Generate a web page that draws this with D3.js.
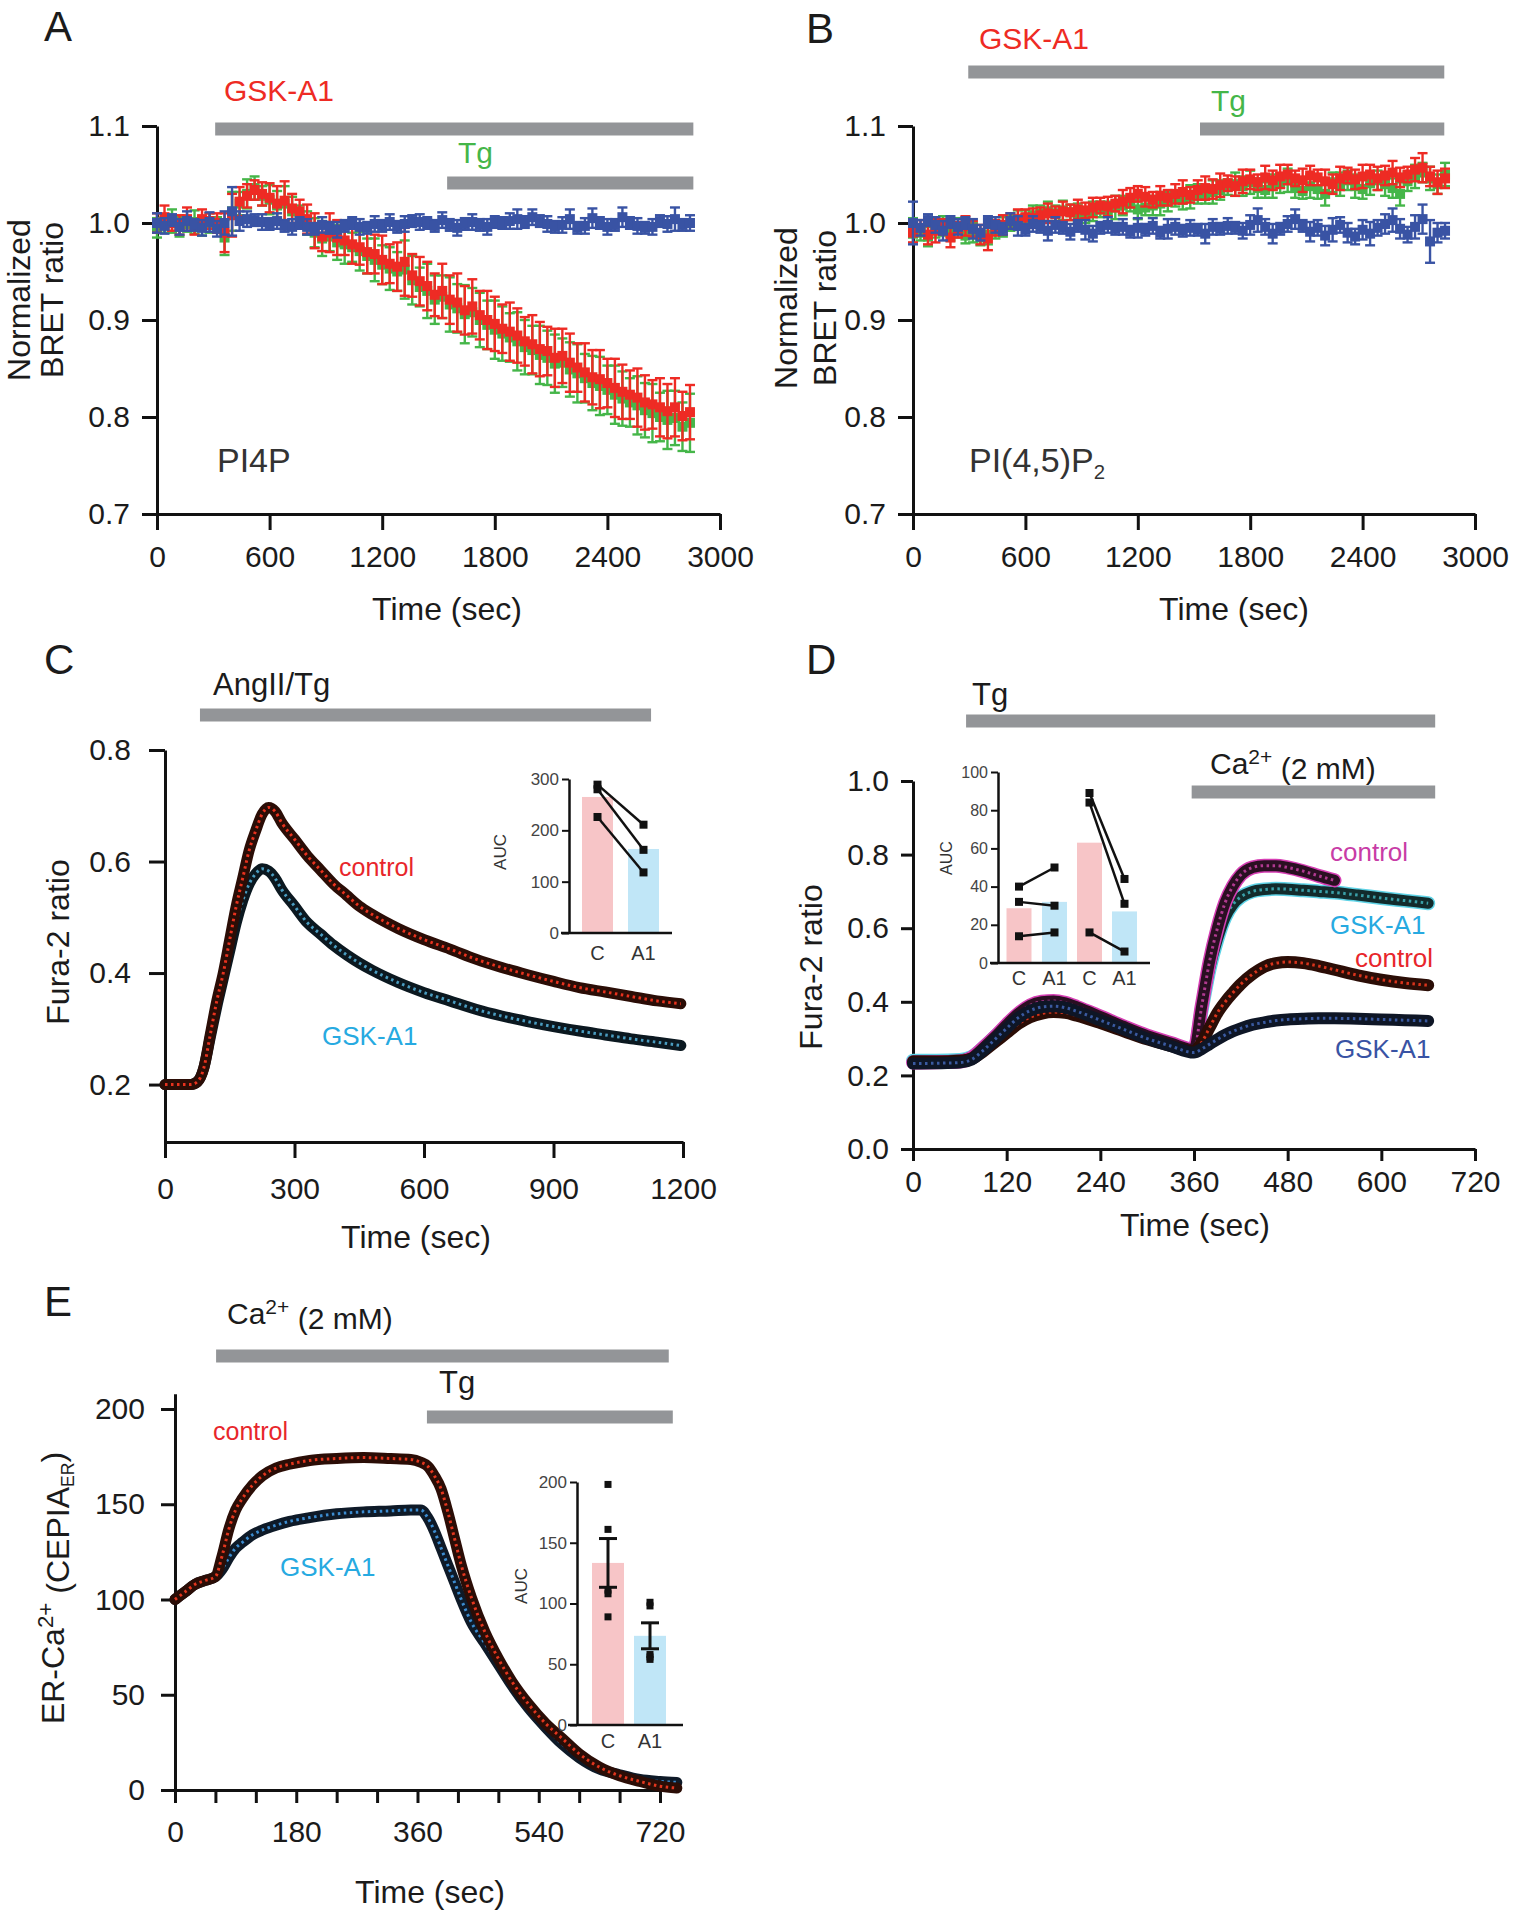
<!DOCTYPE html>
<html>
<head>
<meta charset="utf-8">
<script src="https://cdn.jsdelivr.net/npm/d3@7"></script>
<style>
  body { margin: 0; background: #fff; }
  svg { display: block; }
</style>
</head>
<body>
<svg id="fig" width="1515" height="1920"></svg>
<script>
// ---------------- data ----------------
// A / B : BRET time courses, sampled every 40 s (0 .. 2840 s)
var tAB = d3.range(0, 2841, 40);

var aBlue = [1.000,0.997,1.003,0.996,1.002,0.998,0.995,1.001,0.994,1.000,
  1.012,1.002,1.004,1.003,1.001,0.999,1.002,0.997,0.996,1.000,
  0.996,0.994,0.998,0.995,0.993,0.997,1.000,0.996,0.995,0.999,
  0.997,1.001,0.996,0.999,1.002,1.001,1.000,0.997,1.003,0.998,
  0.995,0.999,1.001,0.998,0.996,1.001,1.000,1.002,1.004,1.001,
  1.006,1.002,0.999,0.996,0.998,1.004,0.995,0.997,1.005,1.000,
  0.996,0.998,1.006,1.000,0.997,0.995,0.996,1.002,0.999,1.004,
  0.998,1.000];
var aBlueErr = [0.010,0.008,0.006,0.008,0.010,0.006,0.008,0.010,0.008,0.012,
  0.025,0.010,0.008,0.006,0.008,0.006,0.008,0.006,0.008,0.006,
  0.008,0.006,0.008,0.006,0.008,0.006,0.006,0.008,0.006,0.008,
  0.006,0.008,0.006,0.008,0.006,0.008,0.006,0.006,0.008,0.006,
  0.008,0.006,0.008,0.006,0.008,0.006,0.006,0.008,0.010,0.006,
  0.008,0.006,0.008,0.006,0.008,0.010,0.006,0.008,0.010,0.006,
  0.008,0.006,0.010,0.006,0.008,0.006,0.008,0.006,0.008,0.012,
  0.006,0.008];
var aRed = [1.000,1.006,1.000,0.998,1.004,0.996,1.004,1.002,1.000,0.990,
  1.008,1.022,1.028,1.034,1.030,1.026,1.020,1.023,1.015,1.012,
  1.004,0.992,0.986,0.990,0.985,0.982,0.978,0.975,0.970,0.968,
  0.962,0.958,0.955,0.960,0.946,0.940,0.935,0.926,0.930,0.921,
  0.918,0.910,0.914,0.905,0.900,0.896,0.891,0.888,0.884,0.878,
  0.875,0.870,0.868,0.861,0.863,0.856,0.851,0.846,0.841,0.839,
  0.835,0.830,0.826,0.823,0.820,0.815,0.813,0.810,0.806,0.810,
  0.801,0.805];
var aRedErr = [0.010,0.012,0.008,0.010,0.012,0.008,0.010,0.008,0.010,0.020,
  0.022,0.015,0.012,0.010,0.012,0.015,0.018,0.020,0.015,0.012,
  0.015,0.018,0.015,0.020,0.018,0.015,0.020,0.018,0.022,0.020,
  0.025,0.020,0.025,0.035,0.022,0.025,0.025,0.022,0.028,0.025,
  0.030,0.025,0.028,0.025,0.030,0.028,0.025,0.030,0.028,0.025,
  0.030,0.028,0.025,0.030,0.028,0.030,0.025,0.030,0.028,0.030,
  0.025,0.030,0.028,0.025,0.030,0.028,0.025,0.030,0.028,0.030,
  0.025,0.028];
var aGreen = [0.995,0.998,1.002,0.996,0.999,1.001,0.997,1.000,0.998,0.985,
  1.012,1.020,1.030,1.036,1.028,1.024,1.018,1.020,1.012,1.008,
  1.000,0.990,0.984,0.986,0.980,0.978,0.975,0.971,0.966,0.962,
  0.957,0.953,0.950,0.952,0.941,0.934,0.930,0.921,0.924,0.916,
  0.912,0.906,0.908,0.900,0.895,0.890,0.886,0.882,0.878,0.872,
  0.869,0.864,0.861,0.855,0.856,0.849,0.845,0.840,0.835,0.832,
  0.828,0.823,0.819,0.815,0.812,0.807,0.804,0.800,0.797,0.799,
  0.790,0.794];
var aGreenErr = [0.010,0.008,0.012,0.010,0.008,0.012,0.010,0.010,0.008,0.018,
  0.020,0.012,0.015,0.012,0.010,0.015,0.015,0.018,0.015,0.010,
  0.012,0.015,0.018,0.015,0.018,0.020,0.015,0.020,0.018,0.022,
  0.020,0.022,0.020,0.030,0.025,0.020,0.028,0.025,0.022,0.028,
  0.025,0.030,0.025,0.028,0.025,0.030,0.028,0.025,0.030,0.028,
  0.025,0.030,0.028,0.030,0.025,0.028,0.030,0.025,0.028,0.030,
  0.025,0.030,0.028,0.025,0.030,0.028,0.030,0.025,0.030,0.028,
  0.025,0.030];

var bBlue = [1.000,0.995,1.003,0.998,0.992,1.001,0.996,1.000,0.994,0.990,
  1.001,0.998,0.994,1.002,0.997,0.993,0.999,0.996,0.992,0.998,
  0.995,0.991,0.997,0.993,0.989,0.995,0.998,0.994,0.996,0.991,
  0.995,0.993,0.997,0.990,0.994,0.996,0.992,0.995,0.993,0.989,
  0.996,0.994,0.997,0.995,0.992,0.998,1.003,0.996,0.989,0.994,
  0.999,1.004,0.997,0.991,0.995,0.987,0.993,0.998,0.990,0.986,
  0.993,0.989,0.995,0.999,1.003,0.994,0.988,0.996,1.004,0.981,
  0.990,0.992];
var bBlueErr = [0.022,0.008,0.006,0.008,0.010,0.006,0.008,0.006,0.010,0.008,
  0.006,0.008,0.006,0.008,0.010,0.006,0.008,0.006,0.010,0.008,
  0.006,0.008,0.006,0.010,0.008,0.006,0.008,0.006,0.008,0.006,
  0.010,0.006,0.008,0.006,0.010,0.008,0.006,0.008,0.006,0.010,
  0.008,0.006,0.008,0.006,0.008,0.010,0.012,0.008,0.010,0.006,
  0.008,0.010,0.006,0.010,0.008,0.010,0.012,0.008,0.010,0.008,
  0.010,0.012,0.008,0.010,0.012,0.010,0.008,0.012,0.015,0.022,
  0.010,0.008];
var bRed = [0.990,0.995,0.988,0.992,0.996,0.985,0.993,0.997,0.994,0.988,
  0.984,0.995,0.998,1.002,1.004,1.006,1.005,1.008,1.010,1.009,
  1.012,1.011,1.014,1.013,1.016,1.018,1.017,1.020,1.022,1.026,
  1.030,1.027,1.024,1.028,1.026,1.030,1.032,1.029,1.034,1.036,
  1.035,1.039,1.041,1.038,1.043,1.045,1.042,1.047,1.044,1.048,
  1.050,1.046,1.044,1.049,1.047,1.043,1.040,1.046,1.049,1.045,
  1.048,1.050,1.046,1.049,1.052,1.047,1.050,1.055,1.057,1.048,
  1.042,1.046];
var bRedErr = [0.010,0.008,0.010,0.012,0.008,0.010,0.008,0.010,0.008,0.010,
  0.012,0.008,0.010,0.008,0.010,0.008,0.010,0.008,0.010,0.008,
  0.010,0.008,0.010,0.008,0.010,0.008,0.010,0.008,0.012,0.010,
  0.008,0.010,0.008,0.010,0.008,0.010,0.012,0.008,0.010,0.012,
  0.010,0.012,0.008,0.010,0.012,0.010,0.008,0.012,0.010,0.012,
  0.010,0.008,0.012,0.010,0.008,0.012,0.010,0.012,0.008,0.010,
  0.012,0.010,0.012,0.010,0.012,0.010,0.008,0.012,0.015,0.010,
  0.012,0.010];
var bGreen = [0.995,0.990,0.986,0.993,0.997,0.990,0.995,0.987,0.990,0.985,
  0.988,0.992,0.996,1.000,1.003,1.005,1.008,1.010,1.012,1.010,
  1.013,1.011,1.010,1.008,1.012,1.014,1.012,1.016,1.018,1.020,
  1.014,1.016,1.018,1.020,1.022,1.025,1.024,1.027,1.030,1.028,
  1.032,1.034,1.037,1.040,1.038,1.042,1.036,1.034,1.038,1.041,
  1.044,1.036,1.033,1.038,1.035,1.030,1.042,1.040,1.044,1.038,
  1.035,1.041,1.044,1.040,1.036,1.030,1.043,1.048,1.052,1.046,
  1.040,1.050];
var bGreenErr = [0.010,0.008,0.010,0.008,0.010,0.008,0.010,0.008,0.010,0.008,
  0.010,0.008,0.010,0.008,0.010,0.008,0.010,0.008,0.010,0.008,
  0.010,0.008,0.010,0.008,0.010,0.008,0.010,0.012,0.010,0.008,
  0.010,0.008,0.010,0.012,0.010,0.008,0.010,0.012,0.010,0.008,
  0.012,0.010,0.008,0.012,0.010,0.012,0.010,0.008,0.012,0.010,
  0.012,0.010,0.008,0.012,0.010,0.012,0.010,0.012,0.010,0.012,
  0.010,0.012,0.010,0.012,0.010,0.012,0.010,0.012,0.010,0.012,
  0.010,0.012];

// C : Fura-2 ratio, AngII/Tg
var timeC = [0,30,60,75,90,105,120,135,150,165,180,195,210,225,240,255,270,
  300,330,360,390,420,450,480,540,600,660,720,780,840,900,960,1020,1080,1140,1195];
var cControl = [0.20,0.20,0.20,0.205,0.23,0.29,0.35,0.40,0.46,0.52,0.57,0.62,0.655,0.685,0.697,0.69,0.67,
  0.64,0.61,0.585,0.56,0.54,0.52,0.505,0.48,0.46,0.443,0.425,0.41,0.397,0.385,0.374,0.366,0.358,0.35,0.345];
var cGsk = [0.20,0.20,0.20,0.205,0.23,0.285,0.34,0.39,0.44,0.49,0.53,0.56,0.578,0.587,0.583,0.57,0.55,
  0.52,0.49,0.47,0.45,0.433,0.418,0.405,0.383,0.365,0.35,0.335,0.323,0.313,0.304,0.296,0.289,0.282,0.276,0.27];
var cAucControl = [289, 280, 226];
var cAucGsk = [211, 162, 118];

// D : Fura-2 ratio, Tg then Ca2+
var timeD = [0,30,60,75,90,105,120,135,150,165,180,195,210,240,270,300,330,360,
  370,380,390,400,410,420,435,450,465,480,500,520,540,570,600,630,660];
var dControlHi = [0.235,0.236,0.238,0.248,0.275,0.305,0.338,0.368,0.390,0.400,0.402,0.397,0.386,0.360,0.333,0.308,0.288,0.270,
  0.390,0.510,0.600,0.670,0.715,0.745,0.765,0.770,0.770,0.765,0.755,0.742,0.730];
var dGskHi = [0.240,0.240,0.242,0.250,0.275,0.305,0.335,0.365,0.385,0.395,0.397,0.392,0.382,0.357,0.330,0.305,0.285,0.268,
  0.380,0.490,0.570,0.630,0.665,0.685,0.700,0.705,0.707,0.706,0.703,0.700,0.697,0.690,0.682,0.675,0.668];
var dControlLo = [0.238,0.238,0.240,0.245,0.265,0.290,0.315,0.340,0.358,0.368,0.372,0.370,0.362,0.342,0.320,0.298,0.280,0.265,
  0.290,0.330,0.370,0.400,0.425,0.448,0.475,0.495,0.505,0.508,0.505,0.497,0.487,0.472,0.460,0.451,0.445];
var dGskLo = [0.232,0.233,0.235,0.243,0.268,0.298,0.328,0.357,0.376,0.386,0.388,0.384,0.374,0.350,0.325,0.300,0.280,0.262,
  0.272,0.285,0.298,0.310,0.320,0.328,0.338,0.344,0.349,0.352,0.354,0.355,0.355,0.354,0.352,0.350,0.348];
// inset AUC, two experiments (paired C vs A1)
var dAuc1Control = [40, 32, 14];
var dAuc1Gsk = [50, 30, 16];
var dAuc2Control = [89, 84, 16];
var dAuc2Gsk = [44, 31, 6];

// E : ER-Ca2+ (CEPIA-ER)
var timeE = [0,15,30,45,60,70,80,90,100,115,130,150,170,200,240,280,320,350,
  365,375,385,395,405,415,425,440,460,480,500,525,550,575,600,630,660,690,720,745];
var eControl = [100,104,108,110,112,123,137,147,153,160,165,169,171,173,174,174.5,174,173.5,
  172,170,165,158,146,132,118,101,83,69,57,45,35,27,19,12,7.5,4.5,2,1];
var eGsk = [100,104,108,110,112,116,122,127,130,134,136.5,139,141,143,145,146,146.5,147,
  147,143,136,127,118,109,100,88,77,66,55,43,33,24,17,11,8,5.5,4.5,4];
var eAucControl = [198, 161, 111, 108, 89];
var eAucGsk = [101, 98, 58, 56, 54];

// treatment windows (sec)
var treatA = [[310, 2858], [1546, 2858]];
var treatB = [[295, 2836], [1532, 2836]];
var treatC = [[81, 1126]];
var treatD = [[68, 669], [357, 669]];
var treatE = [[61, 733], [374, 739]];

// ---------------- drawing ----------------
var FONT = '"Liberation Sans", Arial, Helvetica, sans-serif';
var RED = "#ee2b24", GREEN = "#45b649", BLUE = "#3953a4", CYAN = "#27aae1",
    MAGENTA = "#c83ca6", GRAY = "#939598", INK = "#1b1b1b";
var plain = d3.format("d");
var svg = d3.select("#fig");
svg.append("rect").attr("width", 1515).attr("height", 1920).attr("fill", "#fff");

function txt(x, y, s, size, color, anchor) {
  return svg.append("text").attr("x", x).attr("y", y).text(s)
    .attr("font-family", FONT).attr("font-size", size)
    .attr("fill", color || INK).attr("text-anchor", anchor || "start");
}

function styleAxis(g, fs) {
  g.attr("font-family", FONT).attr("font-size", fs);
  g.select(".domain").attr("stroke", "#111").attr("stroke-width", 3);
  g.selectAll(".tick line").attr("stroke", "#111").attr("stroke-width", 3);
  g.selectAll(".tick text").attr("fill", INK);
}

function vtitle(x, y, size) {
  return svg.append("text").attr("transform", "translate(" + x + "," + y + ") rotate(-90)")
    .attr("text-anchor", "middle").attr("font-family", FONT).attr("font-size", size).attr("fill", INK);
}

function grayBars(x, wins, ys) {
  wins.forEach(function (w, i) {
    svg.append("rect").attr("x", x(w[0])).attr("y", ys[i] - 6.5)
      .attr("width", x(w[1]) - x(w[0])).attr("height", 13).attr("fill", GRAY);
  });
}

function scatterErr(x, y, ts, vals, errs, color) {
  var pts = vals.map(function (v, i) { return { t: ts[i], v: v, e: errs[i] || 0 }; });
  var g = svg.append("g").attr("stroke", color).attr("fill", color);
  g.selectAll(null).data(pts).join("line")
    .attr("x1", d => x(d.t)).attr("x2", d => x(d.t))
    .attr("y1", d => y(d.v + d.e)).attr("y2", d => y(d.v - d.e))
    .attr("stroke-width", 2.4);
  [1, -1].forEach(function (sg) {
    g.selectAll(null).data(pts).join("line")
      .attr("x1", d => x(d.t) - 5).attr("x2", d => x(d.t) + 5)
      .attr("y1", d => y(d.v + sg * d.e)).attr("y2", d => y(d.v + sg * d.e))
      .attr("stroke-width", 2.4);
  });
  g.selectAll(null).data(pts).join("rect")
    .attr("x", d => x(d.t) - 5).attr("y", d => y(d.v) - 5)
    .attr("width", 10).attr("height", 10).attr("stroke", "none");
}

function band(x, y, ts, vals, st) {
  var line = d3.line().x((d, i) => x(ts[i])).y(d => y(d)).curve(d3.curveMonotoneX);
  var p = line(vals);
  var g = svg.append("g").attr("fill", "none").attr("stroke-linecap", "round").attr("stroke-linejoin", "round");
  if (st.rim) g.append("path").attr("d", p).attr("stroke", st.rim).attr("stroke-width", st.w + 3);
  g.append("path").attr("d", p).attr("stroke", st.dark).attr("stroke-width", st.w);
  g.append("path").attr("d", p).attr("stroke", st.dot).attr("stroke-width", 3)
    .attr("stroke-dasharray", "2.5 3.5").attr("stroke-linecap", "butt");
}

function sup(textSel, base, supTxt, rest) {
  textSel.append("tspan").text(base);
  textSel.append("tspan").text(supTxt).attr("font-size", "0.7em").attr("dy", "-0.5em");
  textSel.append("tspan").text(rest).attr("dy", "0.5em");
}

// inset bar chart helper
function inset(cfg) {
  var y = cfg.y;
  var ax = svg.append("g").attr("transform", "translate(" + cfg.axisX + ",0)")
    .call(d3.axisLeft(y).tickValues(cfg.ticks).tickSize(7).tickPadding(3).tickSizeOuter(0));
  ax.attr("font-family", FONT).attr("font-size", cfg.fs);
  ax.select(".domain").attr("stroke", "#111").attr("stroke-width", 2.5);
  ax.selectAll(".tick line").attr("stroke", "#111").attr("stroke-width", 2);
  ax.selectAll(".tick text").attr("fill", "#444");
  cfg.bars.forEach(function (b) {
    svg.append("rect").attr("x", b.cx - cfg.bw / 2).attr("y", y(d3.mean(b.vals)))
      .attr("width", cfg.bw).attr("height", y(0) - y(d3.mean(b.vals))).attr("fill", b.fill);
  });
  svg.append("line").attr("x1", cfg.xLine[0]).attr("x2", cfg.xLine[1])
    .attr("y1", y(0)).attr("y2", y(0)).attr("stroke", "#111").attr("stroke-width", 2.5);
  cfg.labels.forEach(function (l) {
    txt(l.cx, cfg.labelY, l.s, cfg.lfs, "#333", "middle");
  });
  svg.append("text").attr("transform", "translate(" + cfg.aucX + "," + cfg.aucY + ") rotate(-90)")
    .attr("text-anchor", "middle").attr("font-family", FONT).attr("font-size", cfg.fs).attr("fill", "#333").text("AUC");
}

function pairs(y, xa, xb, va, vb) {
  va.forEach(function (v, i) {
    svg.append("line").attr("x1", xa).attr("x2", xb).attr("y1", y(v)).attr("y2", y(vb[i]))
      .attr("stroke", "#111").attr("stroke-width", 2.5);
  });
  va.concat(vb).forEach(function (v, i) {
    var cx = i < va.length ? xa : xb;
    svg.append("rect").attr("x", cx - 4).attr("y", y(v) - 4).attr("width", 8).attr("height", 8).attr("fill", "#111");
  });
}

// ======== Panel A ========
var xA = d3.scaleLinear().domain([0, 3000]).range([157, 720]);
var yA = d3.scaleLinear().domain([0.7, 1.1]).range([514, 126]);
grayBars(xA, treatA, [129, 183]);
styleAxis(svg.append("g").attr("transform", "translate(0,514)")
  .call(d3.axisBottom(xA).tickValues([0, 600, 1200, 1800, 2400, 3000]).tickFormat(plain).tickSize(16).tickPadding(16).tickSizeOuter(0)), 30);
styleAxis(svg.append("g").attr("transform", "translate(157,0)")
  .call(d3.axisLeft(yA).tickValues([0.7, 0.8, 0.9, 1.0, 1.1]).tickFormat(d3.format(".1f")).tickSize(15).tickPadding(12).tickSizeOuter(0)), 30);
scatterErr(xA, yA, tAB, aGreen, aGreenErr, GREEN);
scatterErr(xA, yA, tAB, aRed, aRedErr, RED);
scatterErr(xA, yA, tAB, aBlue, aBlueErr, BLUE);
txt(44, 41, "A", 42);
txt(224, 101, "GSK-A1", 30, RED);
txt(458, 163, "Tg", 30, GREEN);
txt(217, 472, "PI4P", 34, "#333");
txt(447, 620, "Time (sec)", 32, INK, "middle");
vtitle(30, 300, 32).text("Normalized");
vtitle(63, 300, 32).text("BRET ratio");

// ======== Panel B ========
var xB = d3.scaleLinear().domain([0, 3000]).range([913, 1475]);
var yB = d3.scaleLinear().domain([0.7, 1.1]).range([514, 126]);
grayBars(xB, treatB, [72, 129]);
styleAxis(svg.append("g").attr("transform", "translate(0,514)")
  .call(d3.axisBottom(xB).tickValues([0, 600, 1200, 1800, 2400, 3000]).tickFormat(plain).tickSize(16).tickPadding(16).tickSizeOuter(0)), 30);
styleAxis(svg.append("g").attr("transform", "translate(913,0)")
  .call(d3.axisLeft(yB).tickValues([0.7, 0.8, 0.9, 1.0, 1.1]).tickFormat(d3.format(".1f")).tickSize(15).tickPadding(12).tickSizeOuter(0)), 30);
scatterErr(xB, yB, tAB, bGreen, bGreenErr, GREEN);
scatterErr(xB, yB, tAB, bRed, bRedErr, RED);
scatterErr(xB, yB, tAB, bBlue, bBlueErr, BLUE);
txt(806, 43, "B", 42);
txt(979, 49, "GSK-A1", 30, RED);
txt(1211, 111, "Tg", 30, GREEN);
var pip = txt(969, 472, "", 34, "#333");
pip.append("tspan").text("PI(4,5)P");
pip.append("tspan").text("2").attr("font-size", "0.6em").attr("dy", "0.35em");
txt(1234, 620, "Time (sec)", 32, INK, "middle");
vtitle(797, 308, 32).text("Normalized");
vtitle(836, 308, 32).text("BRET ratio");

// ======== Panel C ========
var xC = d3.scaleLinear().domain([0, 1200]).range([165, 683]);
var yC = d3.scaleLinear().domain([0.097, 0.8]).range([1142, 750]);
grayBars(xC, treatC, [715]);
styleAxis(svg.append("g").attr("transform", "translate(0,1142)")
  .call(d3.axisBottom(xC).tickValues([0, 300, 600, 900, 1200]).tickFormat(plain).tickSize(16).tickPadding(20).tickSizeOuter(0)), 30);
styleAxis(svg.append("g").attr("transform", "translate(165,0)")
  .call(d3.axisLeft(yC).tickValues([0.2, 0.4, 0.6, 0.8]).tickFormat(d3.format(".1f")).tickSize(16).tickPadding(18).tickSizeOuter(0)), 30);
band(xC, yC, timeC, cGsk, { w: 11, dark: "#0b1820", dot: "#4a9cc0" });
band(xC, yC, timeC, cControl, { w: 11, dark: "#2b0d06", dot: "#e8321e" });
txt(44, 674, "C", 42);
txt(213, 695, "AngII/Tg", 31);
txt(339, 876, "control", 25, "#e8262b");
txt(322, 1045, "GSK-A1", 26, CYAN);
txt(416, 1248, "Time (sec)", 32, INK, "middle");
vtitle(69, 942, 32).text("Fura-2 ratio");
// inset C
var yCi = d3.scaleLinear().domain([0, 300]).range([933, 779]);
inset({ y: yCi, axisX: 569, ticks: [0, 100, 200, 300], fs: 17, lfs: 20, bw: 31,
  xLine: [561, 672], labelY: 960, aucX: 506, aucY: 852,
  bars: [{ cx: 597.5, vals: cAucControl, fill: "#f7c5c7" }, { cx: 643.5, vals: cAucGsk, fill: "#c0e6f7" }],
  labels: [{ cx: 597.5, s: "C" }, { cx: 643.5, s: "A1" }] });
pairs(yCi, 597.5, 643.5, cAucControl, cAucGsk);

// ======== Panel D ========
var xD = d3.scaleLinear().domain([0, 720]).range([913, 1475]);
var yD = d3.scaleLinear().domain([0, 1]).range([1149, 781]);
grayBars(xD, treatD, [721, 792]);
styleAxis(svg.append("g").attr("transform", "translate(0,1149)")
  .call(d3.axisBottom(xD).tickValues([0, 120, 240, 360, 480, 600, 720]).tickSize(12).tickPadding(10).tickSizeOuter(0)), 30);
styleAxis(svg.append("g").attr("transform", "translate(913,0)")
  .call(d3.axisLeft(yD).tickValues([0, 0.2, 0.4, 0.6, 0.8, 1.0]).tickFormat(d3.format(".1f")).tickSize(12).tickPadding(12).tickSizeOuter(0)), 30);
// upper pair first, so the dark lower traces sit on top during the Tg phase
band(xD, yD, timeD, dGskHi, { w: 11, rim: "#5fd3e6", dark: "#122b2c", dot: "#3aa0a8" });
band(xD, yD, timeD.slice(0, dControlHi.length), dControlHi, { w: 11, rim: "#d63fb4", dark: "#2a0f22", dot: "#b03a90" });
band(xD, yD, timeD, dControlLo, { w: 12, dark: "#2b0d06", dot: "#d8341c" });
band(xD, yD, timeD, dGskLo, { w: 12, dark: "#0e1626", dot: "#3a5aa0" });
txt(806, 674, "D", 42);
txt(972, 705, "Tg", 31);
sup(txt(1210, 774, "", 30), "Ca", "2+", " (2 mM)");
txt(1330, 861, "control", 26, MAGENTA);
txt(1330, 934, "GSK-A1", 26, CYAN);
txt(1355, 967, "control", 26, "#e8262b");
txt(1335, 1058, "GSK-A1", 26, BLUE);
txt(1195, 1236, "Time (sec)", 32, INK, "middle");
vtitle(822, 967, 32).text("Fura-2 ratio");
// inset D
var yDi = d3.scaleLinear().domain([0, 100]).range([963, 772]);
inset({ y: yDi, axisX: 998, ticks: [0, 20, 40, 60, 80, 100], fs: 16, lfs: 20, bw: 25,
  xLine: [990, 1150], labelY: 985, aucX: 952, aucY: 858,
  bars: [{ cx: 1019, vals: dAuc1Control, fill: "#f7c5c7" }, { cx: 1054.5, vals: dAuc1Gsk, fill: "#c0e6f7" },
         { cx: 1089.5, vals: dAuc2Control, fill: "#f7c5c7" }, { cx: 1124.5, vals: dAuc2Gsk, fill: "#c0e6f7" }],
  labels: [{ cx: 1019, s: "C" }, { cx: 1054.5, s: "A1" }, { cx: 1089.5, s: "C" }, { cx: 1124.5, s: "A1" }] });
pairs(yDi, 1019, 1054.5, dAuc1Control, dAuc1Gsk);
pairs(yDi, 1089.5, 1124.5, dAuc2Control, dAuc2Gsk);

// ======== Panel E ========
var xE = d3.scaleLinear().domain([0, 750]).range([175, 175 + 750 * 485 / 720]);
var yE = d3.scaleLinear().domain([0, 208]).range([1790, 1790 - 208 * 1.905]);
grayBars(xE, treatE, [1356, 1417]);
styleAxis(svg.append("g").attr("transform", "translate(0,1790)")
  .call(d3.axisBottom(xE).tickValues(d3.range(0, 750, 60)).tickFormat(d => d % 180 === 0 ? d : "")
    .tickSize(13).tickPadding(18).tickSizeOuter(0)), 30);
styleAxis(svg.append("g").attr("transform", "translate(175,0)")
  .call(d3.axisLeft(yE).tickValues([0, 50, 100, 150, 200]).tickSize(14).tickPadding(16).tickSizeOuter(0)), 30);
band(xE, yE, timeE, eGsk, { w: 11, dark: "#0e1a28", dot: "#3c8cd0" });
band(xE, yE, timeE, eControl, { w: 11, dark: "#2b0d06", dot: "#e2361e" });
txt(44, 1316, "E", 42);
sup(txt(227, 1324, "", 30), "Ca", "2+", " (2 mM)");
txt(439, 1393, "Tg", 31);
txt(213, 1440, "control", 25, "#e8262b");
txt(280, 1576, "GSK-A1", 26, CYAN);
txt(430, 1903, "Time (sec)", 32, INK, "middle");
var et = vtitle(64, 1588, 32);
et.append("tspan").text("ER-Ca");
et.append("tspan").text("2+").attr("font-size", "0.7em").attr("dy", "-0.5em");
et.append("tspan").text(" (CEPIA").attr("dy", "0.5em");
et.append("tspan").text("ER").attr("font-size", "0.55em").attr("dy", "0.3em");
et.append("tspan").text(")").attr("dy", "-0.3em");
// inset E
var yEi = d3.scaleLinear().domain([0, 200]).range([1725, 1482]);
inset({ y: yEi, axisX: 577, ticks: [0, 50, 100, 150, 200], fs: 17, lfs: 20, bw: 32,
  xLine: [568, 683], labelY: 1748, aucX: 527, aucY: 1586,
  bars: [{ cx: 608, vals: eAucControl, fill: "#f7c5c7" }, { cx: 650, vals: eAucGsk, fill: "#c0e6f7" }],
  labels: [{ cx: 608, s: "C" }, { cx: 650, s: "A1" }] });
[[608, eAucControl], [650, eAucGsk]].forEach(function (p) {
  var m = d3.mean(p[1]), se = d3.deviation(p[1]) / Math.sqrt(p[1].length);
  svg.append("line").attr("x1", p[0]).attr("x2", p[0]).attr("y1", yEi(m + se)).attr("y2", yEi(m - se))
    .attr("stroke", "#111").attr("stroke-width", 3);
  [m + se, m - se].forEach(function (v) {
    svg.append("line").attr("x1", p[0] - 9).attr("x2", p[0] + 9).attr("y1", yEi(v)).attr("y2", yEi(v))
      .attr("stroke", "#111").attr("stroke-width", 3);
  });
  p[1].forEach(function (v) {
    svg.append("rect").attr("x", p[0] - 3.5).attr("y", yEi(v) - 3.5).attr("width", 7).attr("height", 7).attr("fill", "#111");
  });
});
</script>
</body>
</html>
